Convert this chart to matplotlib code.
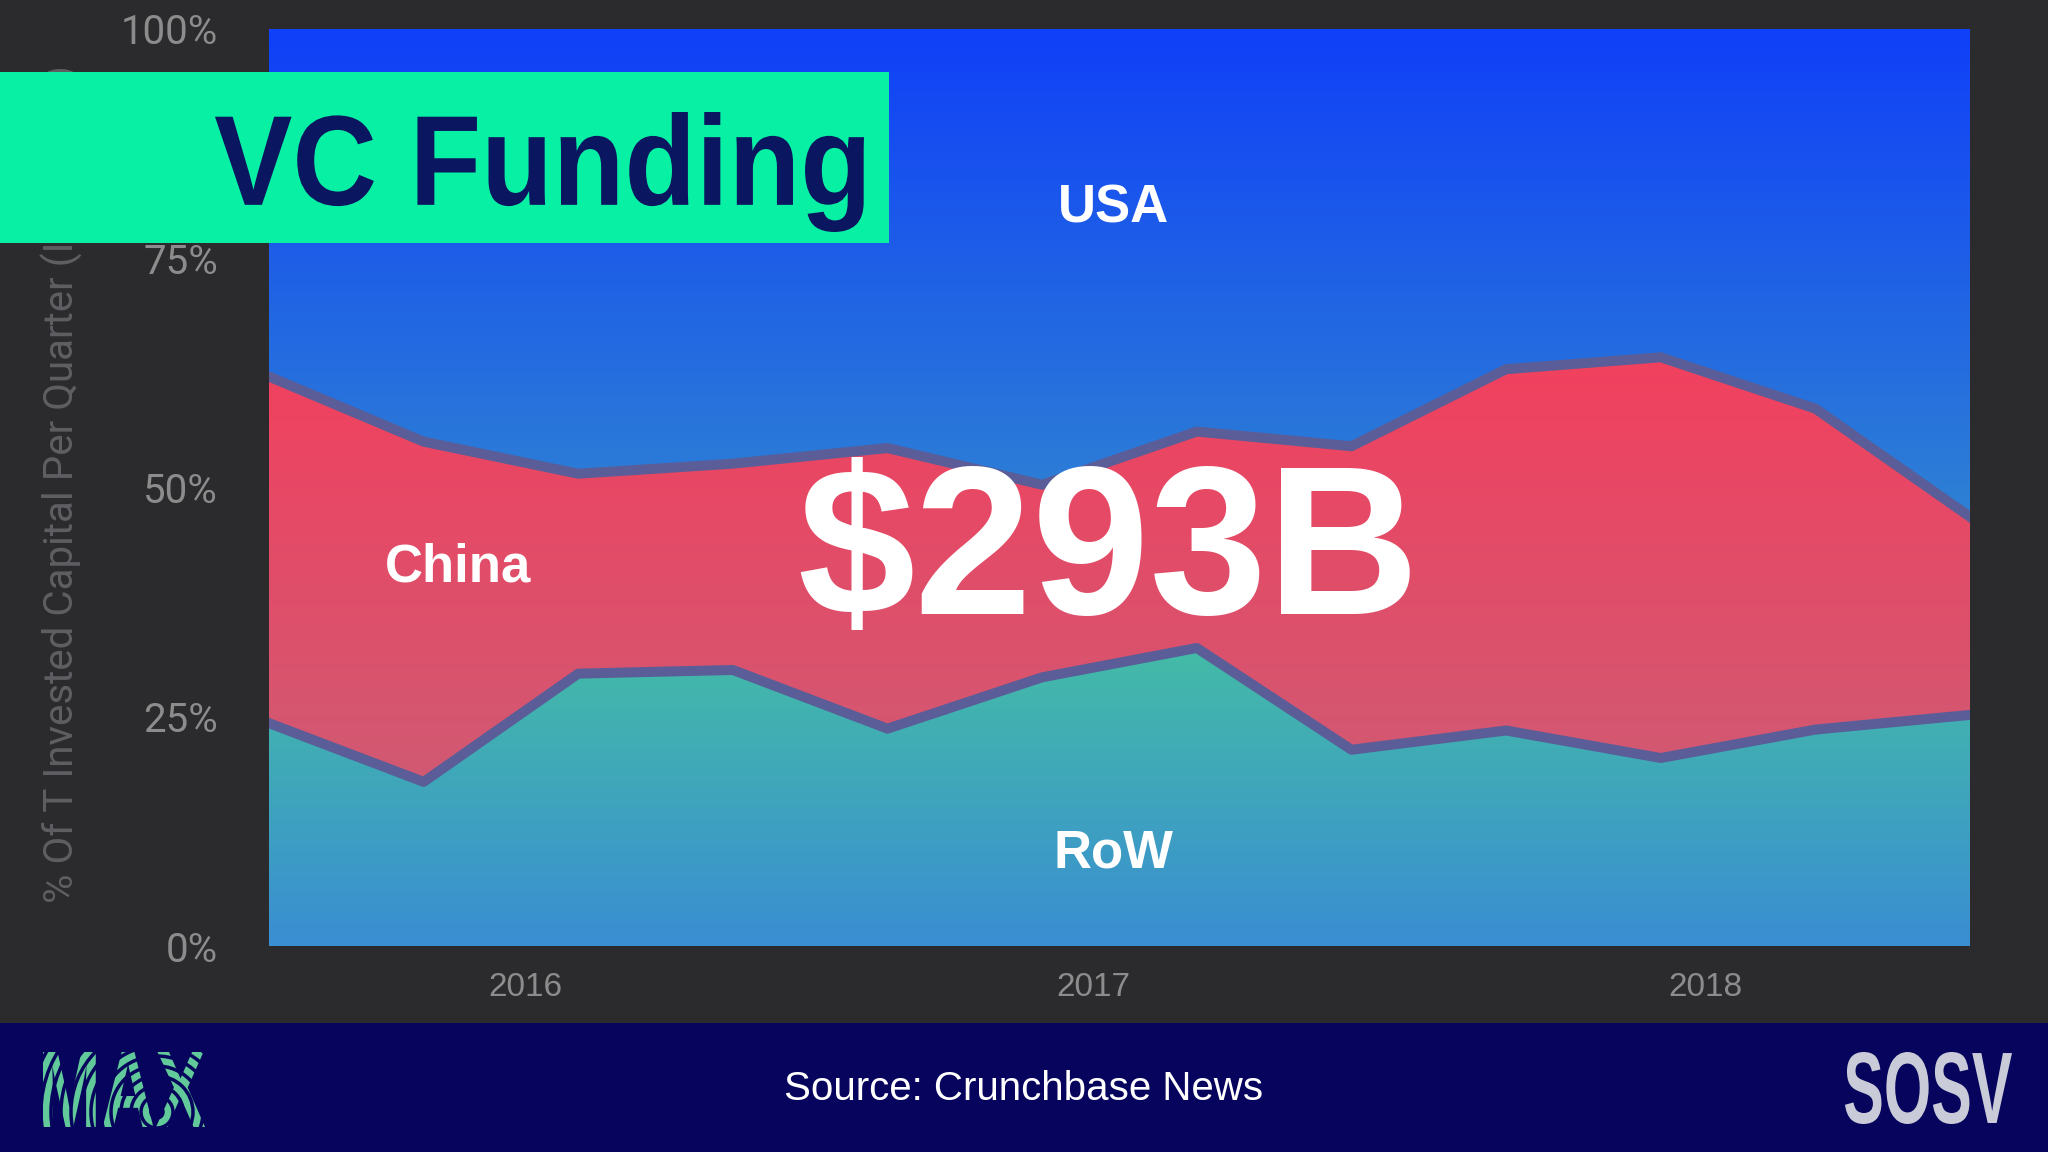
import numpy as np
import matplotlib.pyplot as plt
from matplotlib.colors import LinearSegmentedColormap
from matplotlib.patches import Rectangle, Circle, PathPatch
from matplotlib.transforms import IdentityTransform, Affine2D
from matplotlib.textpath import TextPath
from matplotlib.font_manager import FontProperties

# quarterly share of invested capital (%), Q3 2015 .. Q2 2018
quarters = ['Q3 15', 'Q4 15', 'Q1 16', 'Q2 16', 'Q3 16', 'Q4 16',
            'Q1 17', 'Q2 17', 'Q3 17', 'Q4 17', 'Q1 18', 'Q2 18']
row_share = [24.3, 17.9, 29.7, 30.1, 23.7, 29.3, 32.5, 21.4, 23.5, 20.5, 23.6, 25.2]
china_share = [37.8, 37.1, 21.8, 22.5, 30.6, 21.0, 23.6, 33.1, 39.4, 43.7, 35.0, 21.6]
usa_share = [37.9, 45.0, 48.5, 47.4, 45.7, 49.7, 43.9, 45.5, 37.1, 35.8, 41.4, 53.2]

year_labels = ['2016', '2017', '2018']
year_pos = [1.66, 5.33, 9.29]
ytick_vals = [0, 25, 50, 75, 100]
ytick_labels = ['0%', '25%', '50%', '75%', '100%']

BG = '#2b2a2c'
NAVY = '#06045c'
EDGE = '#5a5d98'
GREY = '#8c8c8c'
W, H = 2048, 1152

x = np.arange(len(quarters))
row_top = np.array(row_share)
china_top = row_top + np.array(china_share)
usa_top = china_top + np.array(usa_share)

fig = plt.figure(figsize=(W / 100, H / 100), dpi=100, facecolor=BG)
ax = fig.add_axes([269 / W, 1 - 946 / H, (1970 - 269) / W, 917 / H])
ax.set_facecolor(BG)


def gradient_band(lower, upper, stops):
    poly = ax.fill_between(x, lower, upper, facecolor='none', edgecolor='none')
    cmap = LinearSegmentedColormap.from_list('band', stops)
    grad = np.linspace(0, 1, 256).reshape(-1, 1)
    im = ax.imshow(grad, cmap=cmap, aspect='auto', origin='lower',
                   extent=[x[0], x[-1], 0, 100], zorder=1, interpolation='bilinear')
    im.set_clip_path(poly.get_paths()[0], transform=ax.transData)


def fit_text(s, x0, x1, y_top, y_bot, color, z):
    # draw bold text squeezed into a pixel box (top-left origin)
    tp = TextPath((0, 0), s, size=100,
                  prop=FontProperties(family='Liberation Sans', weight='bold'))
    ext = tp.get_extents()
    tr = (Affine2D().translate(-ext.x0, -ext.y0)
          .scale((x1 - x0) / ext.width, (y_bot - y_top) / ext.height)
          .translate(x0, H - y_bot))
    fig.add_artist(PathPatch(tr.transform_path(tp), facecolor=color, edgecolor='none',
                             transform=IdentityTransform(), zorder=z))


gradient_band(0, row_top, [(0, '#3a8ed2'), (0.33, '#44bca6'), (1, '#48c8a0')])
gradient_band(row_top, china_top, [(0, '#cc5e76'), (0.15, '#cf5b74'), (0.65, '#f2405e'), (1, '#f83a5a')])
gradient_band(china_top, 100, [(0, '#3a98c8'), (0.35, '#3590cc'), (1, '#1040f8')])

ax.plot(x, row_top, color=EDGE, lw=7.2, zorder=3)
ax.plot(x, china_top, color=EDGE, lw=7.2, zorder=3)

ax.set_xlim(x[0], x[-1])
ax.set_ylim(0, 100)
for s in ax.spines.values():
    s.set_visible(False)

ax.set_yticks(ytick_vals)
ax.set_yticklabels(ytick_labels)
ax.tick_params(axis='y', length=0, pad=36.7, labelsize=29, labelcolor=GREY)
for lbl in ax.get_yticklabels():
    lbl.set_fontfamily('Roboto')
ax.set_xticks(year_pos)
ax.set_xticklabels(year_labels)
ax.tick_params(axis='x', length=0, pad=19, labelsize=24, labelcolor=GREY)
for lbl in ax.get_xticklabels():
    lbl.set_fontfamily('Liberation Sans')

# region labels and total
lab = dict(color='white', fontsize=38, fontweight='bold', family='Liberation Sans',
           ha='center', va='center', zorder=5)
ax.text(5.46, 80.4, 'USA', **lab)
ax.text(1.22, 41.3, 'China', **lab)
ax.text(5.46, 10.1, 'RoW', **lab)
ax.text(5.43, 36.2, '$293B', color='white', fontsize=152, fontweight='bold',
        family='Liberation Sans', ha='center', va='baseline', zorder=5)

# y axis title (partly hidden by the title box)
fig.text(62 / W, 1 - 903 / H, '% Of T Invested Capital Per Quarter (In Billions)',
         rotation=90, ha='center', va='bottom', fontsize=29, color='#5f5e62',
         family='Roboto', zorder=2)

# title box
fig.add_artist(Rectangle((0, 1 - 243 / H), 889 / W, 171 / H,
                         transform=fig.transFigure, facecolor='#08f0a4',
                         edgecolor='none', zorder=10))
fit_text('VC Funding', 215, 864, 112, 232, '#0b1660', 11)

# bottom banner
fig.add_artist(Rectangle((0, 0), 1, 129.5 / H, transform=fig.transFigure,
                         facecolor=NAVY, edgecolor='none', zorder=10))
fig.text(0.5, 1 - 1089 / H, 'Source: Crunchbase News', ha='center', va='center',
         fontsize=29, color='white', family='Liberation Sans', zorder=11)
fit_text('MAX', 43, 205, 1052, 1127, '#62c99a', 11)
# stripe the logo with concentric rings
clip = Rectangle((38, H - 1132), 172, 86, transform=IdentityTransform(),
                 facecolor='none', edgecolor='none')
fig.add_artist(clip)
for r in range(6, 200, 10):
    ring = Circle((157, H - 1112), r, transform=IdentityTransform(),
                  facecolor='none', edgecolor=NAVY, lw=2.5, zorder=12)
    fig.add_artist(ring)
    ring.set_clip_path(clip)
fit_text('SOSV', 1845, 2012, 1052, 1124, '#c9cbd8', 11)

fig.savefig('out.png', dpi=100, facecolor=BG)
